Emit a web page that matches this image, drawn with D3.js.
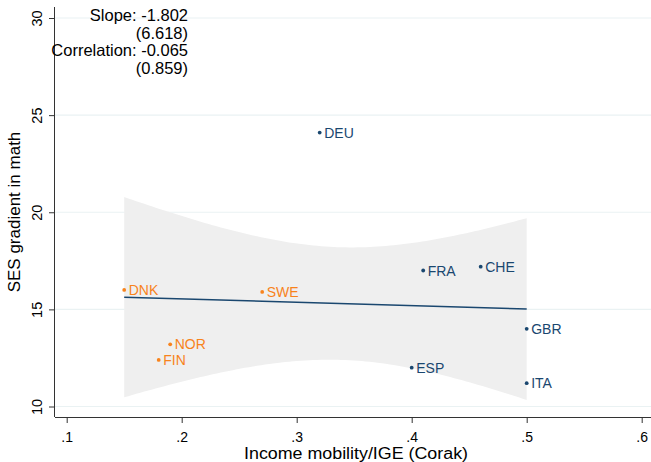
<!DOCTYPE html>
<html>
<head>
<meta charset="utf-8">
<script src="https://cdn.jsdelivr.net/npm/d3@7"></script>
<style>
  body { margin: 0; background: #fff; }
  svg { display: block; font-family: 'Liberation Sans', Arial, sans-serif; }
</style>
</head>
<body>
<div id="chart"></div>
<script>
// ===================================================================

const WIDTH = 651
const HEIGHT = 462

const PLOT = { left: 55, right: 651, top: 7, bottom: 417 }

const NAVY = '#1a476f'
const ORANGE = '#f8831c'
const GRID = '#eaf2f3'
const BAND = '#efefef'

// ===================================================================

const countries = [ 'DEU', 'DNK', 'SWE', 'NOR', 'FIN', 'FRA', 'CHE', 'GBR', 'ESP', 'ITA' ]
const ige = [ 0.32, 0.15, 0.27, 0.19, 0.18, 0.41, 0.46, 0.50, 0.40, 0.50 ]
const sesGradient = [ 24.1, 16.0, 15.9, 13.2, 12.4, 17.0, 17.2, 14.0, 12.0, 11.2 ]
const nordic = [ 'DNK', 'SWE', 'NOR', 'FIN' ]

const xTicks = [ 0.1, 0.2, 0.3, 0.4, 0.5, 0.6 ]
const yTicks = [ 10, 15, 20, 25, 30 ]

const statsText = [ 'Slope: -1.802', '(6.618)', 'Correlation: -0.065', '(0.859)' ]

// t quantile, 95%, 8 degrees of freedom
const T_CRIT = 2.306

// ===================================================================

const data = countries.map((name, i) => ({ name, x: ige[i], y: sesGradient[i] }))

const x = d3.scaleLinear().domain([ 0.1, 0.6 ]).range([ 66.7, 641.7 ])
const y = d3.scaleLinear().domain([ 10, 30 ]).range([ 406.5, 18 ])

// Linear fit and its confidence band
const n = data.length
const mx = d3.mean(data, d => d.x)
const my = d3.mean(data, d => d.y)
const sxx = d3.sum(data, d => (d.x - mx) ** 2)
const sxy = d3.sum(data, d => (d.x - mx) * (d.y - my))
const slope = sxy / sxx
const intercept = my - slope * mx
const fit = v => intercept + slope * v
const s = Math.sqrt(d3.sum(data, d => (d.y - fit(d.x)) ** 2) / (n - 2))
const halfWidth = v => T_CRIT * s * Math.sqrt(1 / n + (v - mx) ** 2 / sxx)

const [ xMin, xMax ] = d3.extent(data, d => d.x)
const bandX = d3.range(0, 101).map(i => xMin + (xMax - xMin) * i / 100)

// ===================================================================

const svg = d3.select('#chart')
  .append('svg')
    .attr('width', WIDTH)
    .attr('height', HEIGHT)

svg.append('rect')
  .attr('width', WIDTH)
  .attr('height', HEIGHT)
  .attr('fill', '#fff')

// Grid
svg.append('g')
  .selectAll('line')
  .data(yTicks)
  .join('line')
    .attr('x1', PLOT.left)
    .attr('x2', PLOT.right)
    .attr('y1', d => y(d))
    .attr('y2', d => y(d))
    .attr('stroke', GRID)
    .attr('stroke-width', 1.2)

// CI band
svg.append('path')
  .datum(bandX)
  .attr('d', d3.area()
    .x(v => x(v))
    .y0(v => y(fit(v) - halfWidth(v)))
    .y1(v => y(fit(v) + halfWidth(v))))
  .attr('fill', BAND)

// Fit line
svg.append('path')
  .datum([ xMin, xMax ])
  .attr('d', d3.line().x(v => x(v)).y(v => y(fit(v))))
  .attr('fill', 'none')
  .attr('stroke', NAVY)
  .attr('stroke-width', 1.5)

// Points and labels
const colorOf = d => nordic.includes(d.name) ? ORANGE : NAVY

const pts = svg.append('g')
  .selectAll('g')
  .data(data)
  .join('g')
    .attr('transform', d => `translate(${x(d.x)}, ${y(d.y)})`)

pts.append('circle')
  .attr('r', 1.9)
  .attr('fill', colorOf)

pts.append('text')
  .attr('x', 4.5)
  .attr('dy', '0.36em')
  .attr('font-size', 14)
  .attr('fill', colorOf)
  .text(d => d.name)

// Axes
const fmtX = d => d3.format('.1f')(d).replace(/^0/, '')

const xAxis = svg.append('g')
  .attr('transform', `translate(0, ${PLOT.bottom})`)
  .call(d3.axisBottom(x).tickValues(xTicks).tickFormat(fmtX).tickSize(6).tickSizeOuter(0))

xAxis.select('.domain').attr('d', `M${PLOT.left},0.5H${PLOT.right}`)
xAxis.selectAll('text')
  .attr('y', 24.5)
  .attr('dy', 0)
  .attr('font-size', 14)
  .attr('font-family', null)

const yAxis = svg.append('g')
  .attr('transform', `translate(${PLOT.left}, 0)`)
  .call(d3.axisLeft(y).tickValues(yTicks).tickSize(6).tickSizeOuter(0))

yAxis.select('.domain').attr('d', `M-0.5,${PLOT.top}V${PLOT.bottom}`)
yAxis.selectAll('text')
  .attr('x', 0)
  .attr('dy', 0)
  .attr('text-anchor', 'middle')
  .attr('transform', 'translate(-13.5, 0) rotate(-90)')
  .attr('font-size', 14.5)
  .attr('font-family', null)

svg.selectAll('.domain, .tick line').attr('stroke', '#333')

// Axis titles
svg.append('text')
  .attr('x', (PLOT.left + PLOT.right) / 2 + 3)
  .attr('y', 459)
  .attr('text-anchor', 'middle')
  .attr('font-size', 16)
  .attr('textLength', 224)
  .attr('lengthAdjust', 'spacingAndGlyphs')
  .text('Income mobility/IGE (Corak)')

svg.append('text')
  .attr('transform', `translate(20, ${(PLOT.top + PLOT.bottom) / 2}) rotate(-90)`)
  .attr('text-anchor', 'middle')
  .attr('font-size', 17)
  .text('SES gradient in math')

// Stats annotation
svg.append('g')
  .selectAll('text')
  .data(statsText)
  .join('text')
    .attr('x', 188)
    .attr('y', (d, i) => 20.7 + i * 17.8)
    .attr('text-anchor', 'end')
    .attr('font-size', 16.5)
    .text(d => d)
</script>
</body>
</html>
